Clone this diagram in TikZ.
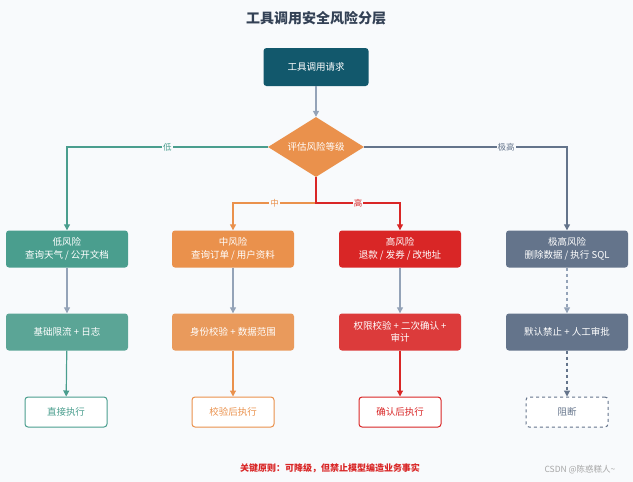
\documentclass[tikz,border=0pt]{standalone}
\usepackage{fontspec}
\setmainfont{Noto Sans CJK SC}
\usetikzlibrary{arrows.meta,shapes.geometric}
\definecolor{bg}{HTML}{F8FAFC}
\definecolor{teal}{HTML}{4A9E8E}
\definecolor{tealB}{HTML}{5BA596}
\definecolor{ora}{HTML}{EA914C}
\definecolor{oraB}{HTML}{E99A5C}
\definecolor{red}{HTML}{D92626}
\definecolor{redB}{HTML}{DC3B3B}
\definecolor{slate}{HTML}{64748B}
\definecolor{navy}{HTML}{12586C}
\definecolor{gr}{HTML}{94A3B8}
\definecolor{titlec}{HTML}{334155}
\begin{document}
\begin{tikzpicture}[x=1pt,y=-1pt,font=\fontsize{9.5}{12.5}\selectfont,
 box/.style={rounded corners=3pt,minimum width=122pt,minimum height=37pt,align=center,text=white},
 fin/.style={rounded corners=3pt,minimum width=82pt,minimum height=30pt,draw,line width=1pt,fill=white,align=center},
 arr/.style={-{Triangle[length=6pt,width=6pt]},line width=1.2pt},
 lab/.style={fill=bg,inner sep=1pt,font=\fontsize{8.5}{10}\selectfont}]
\fill[bg] (0,0) rectangle (633,482);
\useasboundingbox (0,0) rectangle (633,482);
\node[font=\fontsize{14}{16}\selectfont\bfseries,text=titlec] (t) at (316,18) {工具调用安全风险分层};
\node[box,fill=navy,minimum width=105pt,minimum height=38pt] (req) at (316,67) {工具调用请求};
\node[diamond,fill=ora,text=white,minimum width=96pt,minimum height=60pt,inner sep=0pt,aspect=1.6] (d) at (316,147) {评估风险等级};
\node[box,fill=teal] (l1) at (67,249) {低风险\\查询天气 / 公开文档};
\node[box,fill=ora] (m1) at (233,249) {中风险\\查询订单 / 用户资料};
\node[box,fill=red] (h1) at (400,249) {高风险\\退款 / 发券 / 改地址};
\node[box,fill=slate] (x1) at (567,249) {极高风险\\删除数据 / 执行 SQL};
\node[box,fill=tealB] (l2) at (67,332) {基础限流 + 日志};
\node[box,fill=oraB] (m2) at (233,332) {身份校验 + 数据范围};
\node[box,fill=redB] (h2) at (400,332) {权限校验 + 二次确认 +\\审计};
\node[box,fill=slate] (x2) at (567,332) {默认禁止 + 人工审批};
\node[fin,draw=teal,text=teal] (l3) at (66,412) {直接执行};
\node[fin,draw=ora,text=ora] (m3) at (233,412) {校验后执行};
\node[fin,draw=red,text=red] (h3) at (400,412) {确认后执行};
\node[fin,draw=slate,text=slate,dashed] (x3) at (567,412) {阻断};
\draw[arr,gr] (req) -- (d);
\draw[arr,teal] (d.west) -| (l1.north) node[lab,pos=0.25,text=teal] {低};
\draw[arr,slate] (d.east) -| (x1.north) node[lab,pos=0.35,text=slate] {极高};
\coordinate (dm) at (316,203);
\draw[arr,ora] (d.south) -- (dm) -| (m1.north) node[lab,pos=0.25,text=ora] {中};
\draw[arr,red] (d.south) -- (dm) -| (h1.north) node[lab,pos=0.25,text=red] {高};
\draw[arr,gr] (l1) -- (l2);
\draw[arr,gr] (m1) -- (m2);
\draw[arr,gr] (h1) -- (h2);
\draw[arr,gr,dashed] (x1) -- (x2);
\draw[arr,teal] (l2) -- (l3);
\draw[arr,ora] (m2) -- (m3);
\draw[arr,red] (h2) -- (h3);
\draw[arr,slate,dashed] (x2) -- (x3);
\node[text=red,font=\fontsize{9}{11}\selectfont\bfseries] (foot) at (330,468) {关键原则：可降级，但禁止模型编造业务事实};
\node[text=gray!70,font=\fontsize{8.5}{10}\selectfont] (wm) at (580,470) {CSDN @陈惑糕人\textasciitilde};
\end{tikzpicture}
\end{document}
